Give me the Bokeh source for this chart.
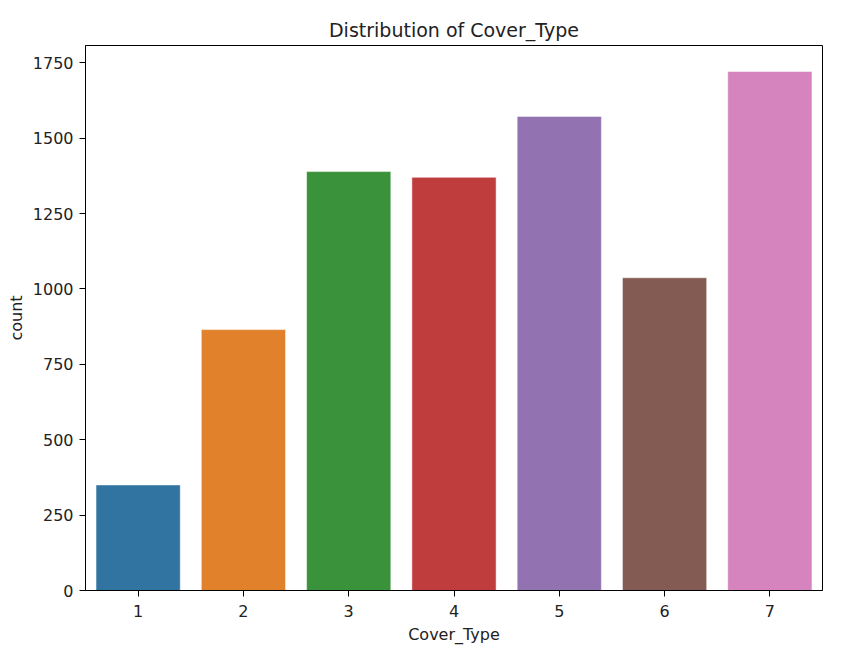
from bokeh.plotting import figure
from bokeh.models import FactorRange, Range1d, FixedTicker, ColumnDataSource
from bokeh.embed import file_html
from bokeh.resources import INLINE

categories = ["1", "2", "3", "4", "5", "6", "7"]
counts = [350, 865, 1389, 1370, 1572, 1037, 1721]
colors = ["#3274a1", "#e1812c", "#3a923a", "#c03d3e", "#9372b2", "#845b53", "#d684bd"]
y_ticks = [0, 250, 500, 750, 1000, 1250, 1500, 1750]

FONT = "DejaVu Sans"

src = ColumnDataSource(dict(cat=categories, count=counts, color=colors))

p = figure(
    x_range=FactorRange(*categories, range_padding=0),
    y_range=Range1d(0, max(counts) * 1.05),
    width=854, height=658,
    output_backend="svg", toolbar_location=None,
    min_border_left=85, min_border_right=32,
    min_border_top=45, min_border_bottom=68,
    title="Distribution of Cover_Type",
)
p.vbar(x="cat", top="count", width=0.8, source=src, fill_color="color",
       line_color="white", line_width=0.5)

p.title.align = "center"
p.title.text_font = FONT
p.title.text_font_size = "19px"
p.title.text_font_style = "normal"
p.title.text_color = "#222222"
p.title.standoff = 10

p.xgrid.visible = False
p.ygrid.visible = False
p.outline_line_color = "black"
p.outline_line_width = 1
p.background_fill_color = "white"
p.border_fill_color = "white"

p.yaxis.ticker = FixedTicker(ticks=y_ticks)
for ax in (p.xaxis[0], p.yaxis[0]):
    ax.major_label_text_font = FONT
    ax.major_label_text_font_size = "16px"
    ax.major_label_text_color = "#222222"
    ax.axis_label_text_font = FONT
    ax.axis_label_text_font_size = "16px"
    ax.axis_label_text_font_style = "normal"
    ax.axis_label_text_color = "#222222"
    ax.major_tick_out = 6
    ax.major_tick_in = 0
    ax.minor_tick_out = 0
    ax.minor_tick_in = 0
    ax.axis_line_color = "black"
    ax.major_tick_line_color = "black"
p.xaxis.axis_label = "Cover_Type"
p.yaxis.axis_label = "count"
p.xaxis.major_label_standoff = 8
p.yaxis.major_label_standoff = 6
p.xaxis.axis_label_standoff = 5
p.yaxis.axis_label_standoff = 4

open("out.html", "w").write(file_html(p, INLINE))
